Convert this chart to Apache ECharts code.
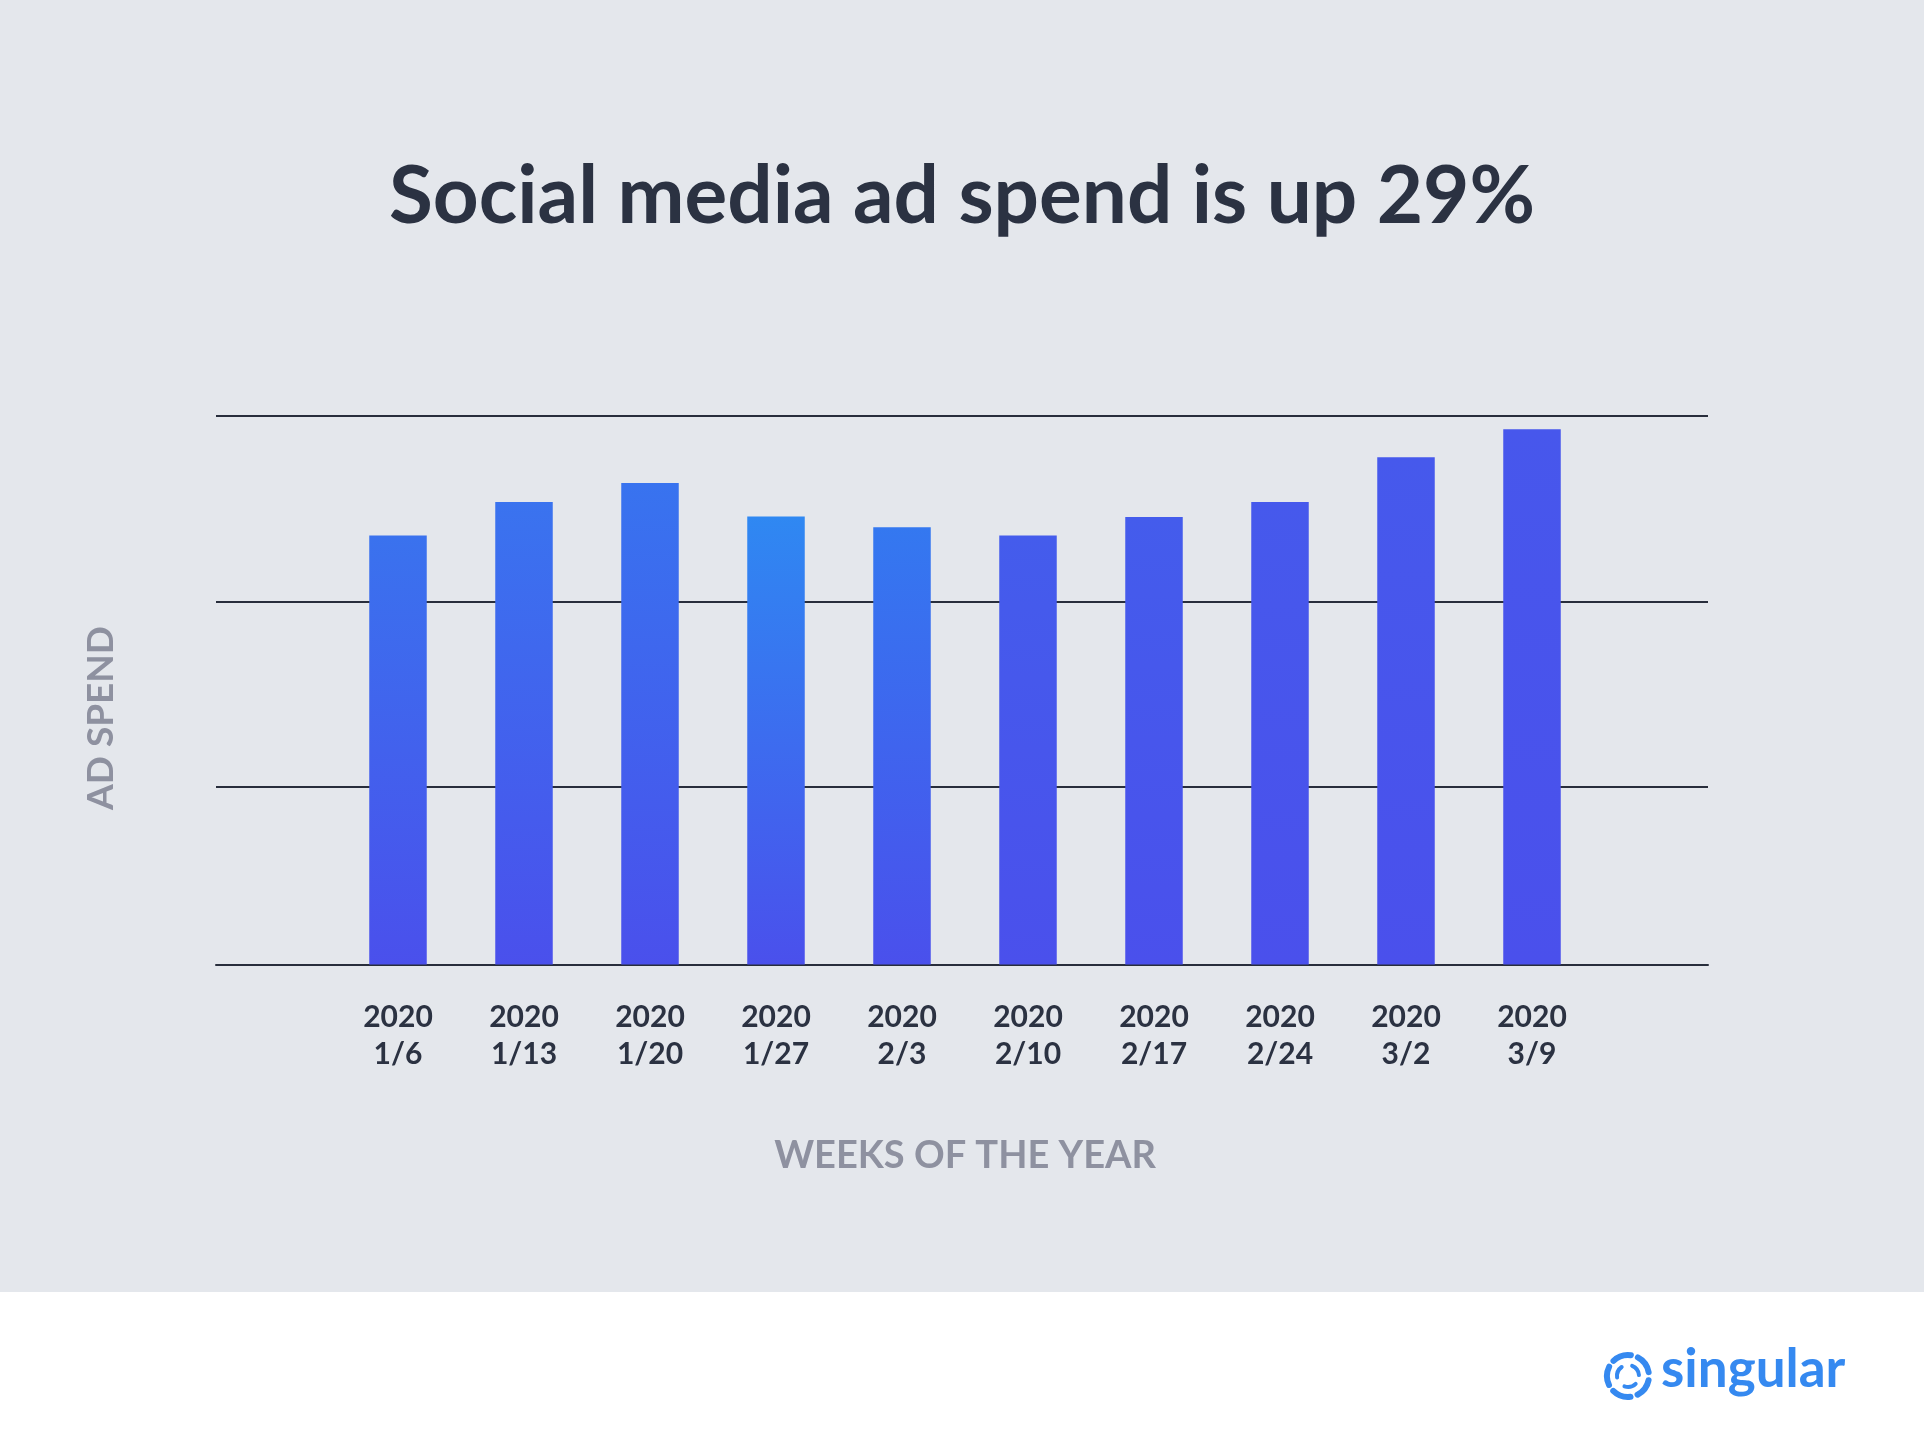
<!DOCTYPE html>
<html>
<head>
<meta charset="utf-8">
<script src="https://cdn.jsdelivr.net/npm/echarts@6/dist/echarts.min.js"></script>
<style>
  html, body { margin: 0; padding: 0; background: #ffffff; }
  #chart { width: 1924px; height: 1448px; }
</style>
</head>
<body>
<div id="chart"></div>
<script>
// ---- data ----
const weekYears = ['2020', '2020', '2020', '2020', '2020', '2020', '2020', '2020', '2020', '2020'];
const weekDates = ['1/6', '1/13', '1/20', '1/27', '2/3', '2/10', '2/17', '2/24', '3/2', '3/9'];
const adSpend = [78.2, 84.3, 87.8, 81.7, 79.7, 78.2, 81.6, 84.3, 92.5, 97.6];
const gridLevels = [0, 1, 2]; // horizontal reference lines (top down)

// ---- styles ----
const barTopColors = ['#3a72ee', '#3a73ef', '#3873ef', '#2f88f2', '#3478f0', '#445cec', '#445cec', '#4659ec', '#4659ec', '#4757ec'];
const barBottomColor = '#4a50ec';
const ink = '#2b3242';
const lineInk = '#282e3c';
const mute = '#8e91a0';
const font = 'Lato';

const categories = weekDates.map((d, i) => weekYears[i] + '\n' + d);

const chart = echarts.init(document.getElementById('chart'), null, { renderer: 'canvas' });

const option = {
  backgroundColor: '#ffffff',
  animation: false,
  title: {
    text: 'Social media ad spend is up 29%',
    left: 'center',
    top: 152,
    textStyle: { fontFamily: font, fontWeight: 700, fontSize: 80, color: ink }
  },
  graphic: [
    { type: 'rect', z: -10, silent: true, shape: { x: 0, y: 0, width: 1924, height: 1292 }, style: { fill: '#e4e7ec' } },
    {
      type: 'text', left: 83, top: 626, z: 5,
      rotation: Math.PI / 2,
      originX: 0, originY: 0,
      style: { text: 'AD SPEND', fill: mute, font: '700 37px ' + font }
    },
    {
      type: 'group', left: 1604, top: 1343, z: 5,
      children: [
        { type: 'arc', shape: { cx: 25, cy: 25, r: 21, startAngle: 0.2, endAngle: 1.1 }, style: { stroke: '#3589f0', lineWidth: 6, fill: null, lineCap: 'round' } },
        { type: 'arc', shape: { cx: 25, cy: 25, r: 21, startAngle: 1.45, endAngle: 2.35 }, style: { stroke: '#3589f0', lineWidth: 6, fill: null, lineCap: 'round' } },
        { type: 'arc', shape: { cx: 25, cy: 25, r: 21, startAngle: 2.7, endAngle: 3.6 }, style: { stroke: '#3589f0', lineWidth: 6, fill: null, lineCap: 'round' } },
        { type: 'arc', shape: { cx: 25, cy: 25, r: 21, startAngle: 3.95, endAngle: 4.85 }, style: { stroke: '#3589f0', lineWidth: 6, fill: null, lineCap: 'round' } },
        { type: 'arc', shape: { cx: 25, cy: 25, r: 21, startAngle: 5.2, endAngle: 6.1 }, style: { stroke: '#3589f0', lineWidth: 6, fill: null, lineCap: 'round' } },
        { type: 'arc', shape: { cx: 25, cy: 25, r: 11, startAngle: 0.8, endAngle: 1.9 }, style: { stroke: '#3589f0', lineWidth: 4, fill: null, lineCap: 'round' } },
        { type: 'arc', shape: { cx: 25, cy: 25, r: 11, startAngle: 3.0, endAngle: 4.1 }, style: { stroke: '#3589f0', lineWidth: 4, fill: null, lineCap: 'round' } },
        { type: 'arc', shape: { cx: 25, cy: 25, r: 11, startAngle: 5.1, endAngle: 6.2 }, style: { stroke: '#3589f0', lineWidth: 4, fill: null, lineCap: 'round' } },
        { type: 'text', x: 58, y: -8, style: { text: 'singular', fill: '#3589f0', font: '700 53px ' + font } }
      ]
    }
  ],
  grid: [
    { left: 216, width: 1492, top: 416, height: 548.5, containLabel: false },
    { left: 335, width: 1260, top: 416, height: 548.5, containLabel: false }
  ],
  xAxis: [
    {
      gridIndex: 0, type: 'value', min: 0, max: 1, position: 'bottom',
      axisLine: { show: true, onZero: false, lineStyle: { color: lineInk, width: 2 } },
      axisTick: { show: false }, axisLabel: { show: false }, splitLine: { show: false }
    },
    {
      gridIndex: 1, type: 'category', data: categories,
      axisLine: { show: false }, axisTick: { show: false },
      axisLabel: {
        margin: 34, color: ink, fontFamily: font, fontWeight: 700, fontSize: 30, lineHeight: 37,
        interval: 0, align: 'center'
      },
      name: 'WEEKS OF THE YEAR', nameLocation: 'middle', nameGap: 172,
      nameTextStyle: { color: mute, fontFamily: font, fontWeight: 700, fontSize: 38 }
    }
  ],
  yAxis: [
    {
      gridIndex: 0, type: 'value', inverse: true,
      min: gridLevels[0], max: 2.957, interval: 1,
      axisLine: { show: false }, axisTick: { show: false }, axisLabel: { show: false },
      splitLine: { show: true, lineStyle: { color: lineInk, width: 2 } }
    },
    {
      gridIndex: 1, type: 'value', min: 0, max: 100,
      axisLine: { show: false }, axisTick: { show: false }, axisLabel: { show: false },
      splitLine: { show: false }
    }
  ],
  series: [
    {
      type: 'bar', xAxisIndex: 1, yAxisIndex: 1,
      barWidth: 57.5,
      data: adSpend.map((v, i) => ({
        value: v,
        itemStyle: {
          color: new echarts.graphic.LinearGradient(0, 0, 0, 1, [
            { offset: 0, color: barTopColors[i] },
            { offset: 1, color: barBottomColor }
          ])
        }
      })),
      z: 3
    }
  ]
};

chart.setOption(option);
</script>
</body>
</html>
